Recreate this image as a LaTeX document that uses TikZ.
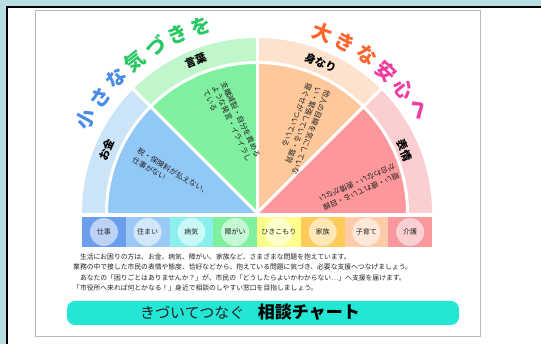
\documentclass[tikz,border=0pt]{standalone}
\usepackage{fontspec}
\setmainfont{Noto Sans CJK JP}
\definecolor{bgteal}{RGB}{184,222,226}
\definecolor{ringblue}{RGB}{204,228,248}
\definecolor{ringgreen}{RGB}{192,246,204}
\definecolor{ringpeach}{RGB}{253,226,206}
\definecolor{ringpink}{RGB}{251,206,210}
\definecolor{secblue}{RGB}{146,200,246}
\definecolor{secgreen}{RGB}{128,240,160}
\definecolor{secpeach}{RGB}{255,200,155}
\definecolor{secpink}{RGB}{252,152,155}
\definecolor{ca}{RGB}{108,158,238}
\definecolor{cb}{RGB}{156,202,246}
\definecolor{cc}{RGB}{138,240,238}
\definecolor{cd}{RGB}{128,240,160}
\definecolor{ce}{RGB}{255,255,140}
\definecolor{cf}{RGB}{255,204,92}
\definecolor{cg}{RGB}{255,204,170}
\definecolor{ch}{RGB}{250,152,158}
\definecolor{banner}{RGB}{36,230,212}
\definecolor{tblue}{RGB}{70,140,232}
\definecolor{tgreen}{RGB}{40,200,100}
\definecolor{torange}{RGB}{255,100,45}
\definecolor{tpink}{RGB}{240,60,160}
\definecolor{txtdark}{RGB}{34,34,34}
\tikzset{
  titlech/.style={font=\fontsize{20}{20}\selectfont\bfseries, inner sep=0},
  rlab/.style={font=\fontsize{11}{11}\selectfont\bfseries, inner sep=0, text=black},
  stext/.style={font=\fontsize{7.5}{9.8}\selectfont, align=left, inner sep=0, text=txtdark},
  celltext/.style={font=\fontsize{7}{7}\selectfont, inner sep=0, text=txtdark},
  para/.style={font=\fontsize{6.8}{6.8}\selectfont, anchor=west, inner sep=0, text=txtdark},
  sep/.style={white, line width=3pt},
}
\newcommand\olab[4]{%
  \node[rlab,rotate=#2-90] (#1) at ([shift={(#2:#3)}]C) {#4};}
\begin{document}
\begin{tikzpicture}[x=1pt,y=1pt]
\useasboundingbox (0,0) rectangle (541,344);
% frame
\fill[bgteal] (0,0) rectangle (541,344);
\fill[white] (7,0) rectangle (541,337);
\draw[line width=2pt] (7,0) -- (7,337) -- (541,337);
\draw[gray!55, line width=0.8pt] (35,8) rectangle (480,334);
\coordinate (C) at (257,131);
% ring
\foreach \a/\b/\c in {0/45/ringpink,45/90/ringpeach,90/135/ringgreen,135/180/ringblue}
  \fill[\c] (C) -- ([shift={(\a:175)}]C) arc[start angle=\a, end angle=\b, radius=175] -- cycle;
\foreach \a/\b/\c in {0/45/secpink,45/90/secpeach,90/135/secgreen,135/180/secblue}
  \fill[\c] (C) -- ([shift={(\a:150)}]C) arc[start angle=\a, end angle=\b, radius=150] -- cycle;
\draw[sep] ([shift={(0:150.5)}]C) arc[start angle=0, end angle=180, radius=150.5];
\foreach \a in {45,90,135} \draw[sep] (C) -- ([shift={(\a:176)}]C);
% titles
\foreach \ch/\col [count=\i from 0] in {小/tblue,さ/tblue,な/tblue,気/tgreen,づ/tgreen,き/tgreen,を/tgreen}{
  \pgfmathsetmacro\ang{151.1-7.42*\i}
  \node[titlech,text=\col,rotate=\ang-90] (lt\i) at ([shift={(\ang:195)}]C) {\ch};
}
\foreach \ch/\col [count=\i from 0] in {大/torange,き/torange,な/torange,安/tpink,心/tpink,へ/tpink}{
  \pgfmathsetmacro\ang{70.2-7.52*\i}
  \node[titlech,text=\col,rotate=\ang-90] (rt\i) at ([shift={(\ang:192)}]C) {\ch};
}
% ring labels
\olab{lmoney}{157}{163}{お金}
\olab{lword}{112}{164}{言葉}
\olab{lapp}{67}{163}{身なり}
\olab{lface}{23}{160}{表情}
% sector texts
\node[stext,rotate=-31] (smoney) at (171,168) {税・保険料が払えない、\\仕事がない};
\node[stext,rotate=-65] (sword) at (232,220.5) {支離滅裂・自分を責める\\ような発言・イライラし\\ている};
\node[stext,rotate=-112] (sapp) at (302,215) {他人の目線を気にしていな\\い・緊張している・猫背\\寝ぐせがついている};
\node[stext,rotate=-156] (sface) at (359,157) {暗い・疲れている・目線\\が合わない・表情がない};
% bar
\foreach \c/\t [count=\i from 0] in {ca/仕事,cb/住まい,cc/病気,cd/障がい,ce/ひきこもり,cf/家族,cg/子育て,ch/介護}{
  \fill[\c] (82+43.75*\i,97) rectangle ++(43.75,30);
  \fill[white,opacity=0.55] (103.875+43.75*\i,112) circle (14);
  \node[celltext] (cell\i) at (103.875+43.75*\i,112) {\t};
}
% paragraph
\node[para] (p1) at (73,87.5) {　生活にお困りの方は、お金、病気、障がい、家族など、さまざまな問題を抱えています。};
\node[para] (p2) at (73,77) {業務の中で接した市民の表情や態度、恰好などから、抱えている問題に気づき、必要な支援へつなげましょう。};
\node[para] (p3) at (73,66.5) {　あなたの「困りごとはありませんか？」が、市民の「どうしたらよいかわからない…」へ支援を届けます。};
\node[para] (p4) at (73,56) {「市役所へ来れば何とかなる！」身近で相談のしやすい窓口を目指しましょう。};
% banner
\fill[banner, rounded corners=8pt] (67,19) rectangle (459,43);
\node[inner sep=0, text=txtdark, font=\fontsize{15}{15}\selectfont] (bt) at (250,31.5) {きづいてつなぐ\hspace{0.9em}{\fontsize{17}{17}\selectfont\bfseries\color{black}相談チャート}};
\end{tikzpicture}
\end{document}
